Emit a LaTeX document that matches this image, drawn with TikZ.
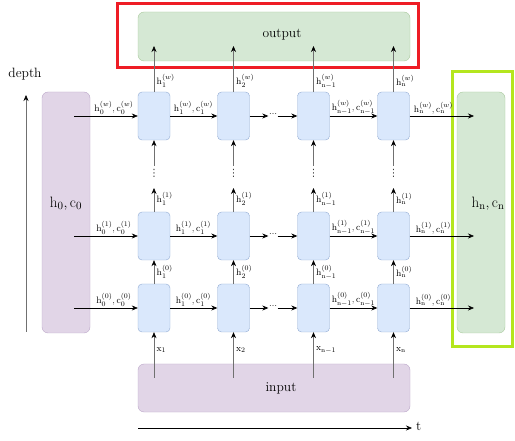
\documentclass[tikz,border=0pt]{standalone}
\usepackage{fontspec}
\newfontfamily\dejavu{DejaVu Sans}
\usetikzlibrary{arrows.meta}
\definecolor{cellfill}{HTML}{DAE8FC}
\definecolor{celldraw}{HTML}{92ABD2}
\definecolor{purfill}{HTML}{E1D5E7}
\definecolor{purdraw}{HTML}{BBA6C8}
\definecolor{grnfill}{HTML}{D5E8D4}
\definecolor{grndraw}{HTML}{A9C99C}
\definecolor{redframe}{HTML}{EE1C25}
\definecolor{limeframe}{HTML}{B4E61E}
\definecolor{vline}{HTML}{707070}
\tikzset{
  cell/.style={draw=celldraw, fill=cellfill, rounded corners=4pt, minimum width=32pt, minimum height=48pt, inner sep=0pt},
  purbox/.style={draw=purdraw, fill=purfill, rounded corners=6pt, inner sep=0pt},
  grnbox/.style={draw=grndraw, fill=grnfill, rounded corners=6pt, inner sep=0pt},
  harr/.style={draw=black, line width=0.6pt, -{Stealth[length=6pt,width=5pt]}},
  varr/.style={draw=vline, line width=0.6pt, -{Stealth[length=6pt,width=5pt,black]}},
  hlab/.style={anchor=south, inner sep=0.5pt, font=\fontsize{9.3}{10}\selectfont},
  vlab/.style={anchor=west, inner sep=0.5pt, font=\fontsize{9.3}{10}\selectfont},
  bigtxt/.style={inner sep=0pt, font=\fontsize{13.5}{16}\selectfont},
  dotsnode/.style={inner sep=0.5pt, font=\dejavu\fontsize{8}{9}\selectfont, text=black!80}
}
\begin{document}
\begin{tikzpicture}[x=1pt,y=-1pt]
\useasboundingbox (0,0) rectangle (515,441);
% big boxes
\node[grnbox, minimum width=272pt, minimum height=49pt] (out) at (274,36.5) {};
\node[bigtxt] (outlab) at (282,35) {output};
\node[purbox, minimum width=272pt, minimum height=48pt] (inp) at (274,388) {};
\node[bigtxt] (inlab) at (281,388) {input};
\node[purbox, minimum width=48pt, minimum height=241pt] (h0) at (66,212.5) {};
\node[inner sep=0pt, font=\fontsize{15}{18}\selectfont] (h0lab) at (66,204) {$\mathrm{h}_0,\mathrm{c}_0$};
\node[grnbox, minimum width=48pt, minimum height=241pt] (hn) at (481,212.5) {};
\node[inner sep=0pt, font=\fontsize{15}{18}\selectfont] (hnlab) at (488,204) {$\mathrm{h}_\mathrm{n},\mathrm{c}_\mathrm{n}$};
% frames
\node[draw=redframe, line width=3pt, minimum width=301pt, minimum height=64pt, inner sep=0pt] (redf) at (267.5,36) {};
\node[draw=limeframe, line width=3pt, minimum width=60pt, minimum height=275pt, inner sep=0pt] (limef) at (482,209.5) {};
% axes
\coordinate (d0) at (26,332);
\coordinate (d1) at (26,95);
\draw[varr] (d0) -- (d1);
\node[bigtxt] (depthlab) at (25,74) {depth};
\coordinate (t0) at (138,428);
\coordinate (t1) at (412,428);
\draw[harr] (t0) -- (t1);
\node[bigtxt, anchor=west] (tlab) at (416,426) {t};
% cells
\foreach \r/\y in {0/308,1/236,w/116}{
  \foreach \c/\x in {1/154,2/233.5,3/313.5,4/393.5}{
    \node[cell] (c\r\c) at (\x,\y) {};
  }
  \coordinate (s\r) at (74,\y);
  \coordinate (e\r) at (474,\y);
  \node[dotsnode] (d\r) at (273,\y-1) {⋯};
  \draw[harr] (s\r) -- (c\r1);
  \draw[harr] (c\r1) -- (c\r2);
  \draw[harr] (c\r2.east) -- (d\r.west |- c\r2.east);
  \draw[harr] (d\r.east |- c\r2.east) -- (c\r3.west);
  \draw[harr] (c\r3) -- (c\r4);
  \draw[harr] (c\r4) -- (e\r);
  \node[hlab] (la\r) at (114,\y-1) {$\mathrm{h}_0^{(\r)},\mathrm{c}_0^{(\r)}$};
  \node[hlab] (lb\r) at (193.5,\y-1) {$\mathrm{h}_1^{(\r)},\mathrm{c}_1^{(\r)}$};
  \node[hlab] (lc\r) at (353.5,\y-1) {$\mathrm{h}_{\mathrm{n}-1}^{(\r)},\mathrm{c}_{\mathrm{n}-1}^{(\r)}$};
  \node[hlab] (ld\r) at (433.5,\y-1) {$\mathrm{h}_\mathrm{n}^{(\r)},\mathrm{c}_\mathrm{n}^{(\r)}$};
}
% vertical connections
\foreach \c/\x/\k in {1/154/1,2/233.5/2,3/313.5/\mathrm{n}-1,4/393.5/\mathrm{n}}{
  \coordinate (o\c) at (\x,46);
  \coordinate (v\c) at (\x,166);
  \coordinate (u\c) at (\x,188);
  \coordinate (i\c) at (\x,378);
  \draw[varr] (cw\c) -- (o\c);
  \node[dotsnode, font=\dejavu\fontsize{10}{11}\selectfont] (vd\c) at (\x,173) {⋮};
  \draw[varr] (v\c) -- (cw\c);
  \draw[varr] (c1\c) -- (u\c);
  \draw[varr] (c0\c) -- (c1\c);
  \draw[varr] (i\c) -- (c0\c);
  \node[vlab] (vw\c) at (\x+2,81) {$\mathrm{h}_{\k}^{(w)}$};
  \node[vlab] (v1\c) at (\x+2,199) {$\mathrm{h}_{\k}^{(1)}$};
  \node[vlab] (v0\c) at (\x+2,272) {$\mathrm{h}_{\k}^{(0)}$};
  \node[vlab] (vx\c) at (\x+2,350) {$\mathrm{x}_{\k}$};
}
\end{tikzpicture}
\end{document}
